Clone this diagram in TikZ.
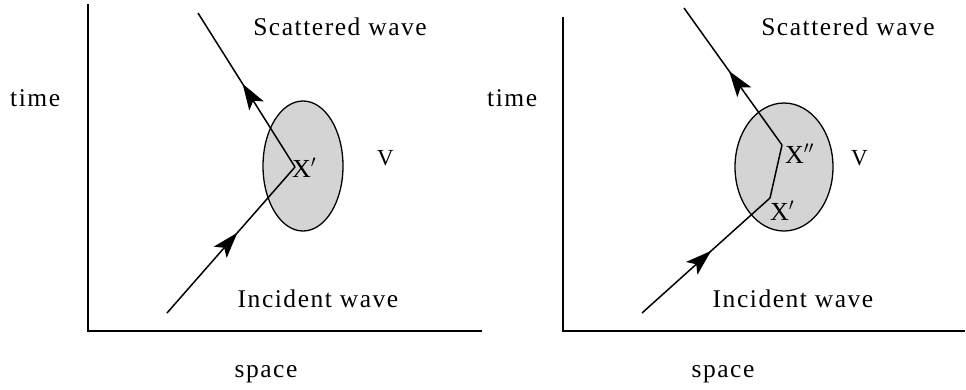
\documentclass[tikz,border=0pt]{standalone}
\usepackage{fontspec}
\setmainfont{Liberation Serif}[LetterSpace=6]
\usetikzlibrary{arrows.meta,decorations.markings}
\begin{document}
\begin{tikzpicture}[x=1pt,y=-1pt,
  axis/.style={line width=1.6pt},
  ray/.style={line width=1.5pt, postaction={decorate},
    decoration={markings, mark=at position #1 with {\arrow{Stealth[length=26pt,width=17pt,inset=6pt]}}}},
  lbl/.style={font=\fontsize{25.5}{30}\selectfont, inner sep=0pt},
  vlbl/.style={font=\fontsize{23}{28}\selectfont, inner sep=0pt, anchor=base west},
  xlbl/.style={font=\fontsize{26}{30}\selectfont, inner sep=0pt, anchor=base west},
  region/.style={draw, line width=1.3pt, fill=black!17},
]
\useasboundingbox (0,0) rectangle (966,389);

% ---------- left panel ----------
\coordinate (T1) at (88,4);
\coordinate (O1) at (88,331);
\coordinate (E1) at (482,331);
\draw[axis] (T1) -- (O1) -- (E1);

\draw[region] (303,166) ellipse [x radius=40pt, y radius=65pt];

\coordinate (S1) at (198,13);
\coordinate (P1) at (295,167);
\coordinate (I1) at (167,313);
\draw[ray=0.55] (I1) -- (P1);
\draw[ray=0.54] (P1) -- (S1);

\node[xlbl] (x1) at (292,177) {X$'$};
\node[vlbl] (v1) at (377,165) {V};
\node[lbl, anchor=base] (sc1) at (340,35) {Scattered wave};
\node[lbl, anchor=base] (in1) at (318,307) {Incident wave};
\node[lbl, anchor=base west] (t1) at (10,106) {time};
\node[lbl, anchor=base] (sp1) at (266,377) {space};

% ---------- right panel ----------
\coordinate (T2) at (563,17);
\coordinate (O2) at (563,331);
\coordinate (E2) at (965,331);
\draw[axis] (T2) -- (O2) -- (E2);

\draw[region] (784,167) ellipse [x radius=49pt, y radius=64pt];

\coordinate (S2) at (684,8);
\coordinate (Q2) at (782,145);
\coordinate (P2) at (770,198);
\coordinate (I2) at (642,313);
\draw[ray=0.54] (I2) -- (P2);
\draw[line width=1.5pt] (P2) -- (Q2);
\draw[ray=0.54] (Q2) -- (S2);

\node[xlbl] (x2b) at (785,163) {X$''$};
\node[xlbl] (x2a) at (770,220) {X$'$};
\node[vlbl] (v2) at (851,165) {V};
\node[lbl, anchor=base] (sc2) at (848,35) {Scattered wave};
\node[lbl, anchor=base] (in2) at (793,307) {Incident wave};
\node[lbl, anchor=base west] (t2) at (487,106) {time};
\node[lbl, anchor=base] (sp2) at (723,377) {space};
\end{tikzpicture}
\end{document}
